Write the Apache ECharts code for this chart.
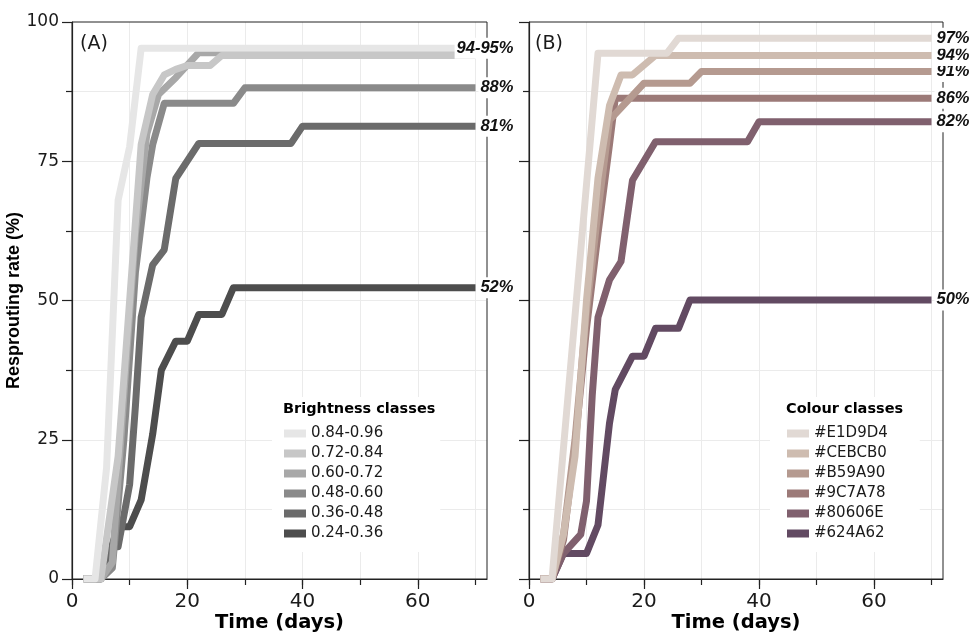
<!DOCTYPE html>
<html>
<head>
<meta charset="utf-8">
<script src="https://cdn.jsdelivr.net/npm/echarts@6/dist/echarts.min.js"></script>
<style>
  html, body { margin: 0; padding: 0; background: #fff; }
  #chart { width: 973px; height: 632px; }
</style>
</head>
<body>
<div id="chart"></div>
<script>
// classes, legend order (lightest first)
const brightNames = ['0.84-0.96', '0.72-0.84', '0.60-0.72', '0.48-0.60', '0.36-0.48', '0.24-0.36']
const brightColors = ['#e6e6e6', '#c7c7c7', '#a8a8a8', '#8a8a8a', '#6b6b6b', '#4d4d4d']
const colourNames = ['#E1D9D4', '#CEBCB0', '#B59A90', '#9C7A78', '#80606E', '#624A62']

// [day, resprouting %]
const bright1 = [[2, 0], [4, 0], [6, 20], [8, 68], [10, 77.6], [12, 95.3], [70, 95.3]]
const bright2 = [[2, 0], [5, 0], [8, 22], [10, 50], [12, 78], [14, 87], [16, 90.5], [18, 91.5], [20, 92.2], [24, 92.2], [26, 94], [70, 94]]
const bright3 = [[2, 0], [5, 0], [7, 3], [9, 33], [11, 62], [13, 80], [15, 87], [18, 90], [22, 94.5], [70, 94.5]]
const bright4 = [[2, 0], [5, 0], [7, 2], [9, 25], [11, 55], [13, 72], [14, 78], [16, 85.4], [28, 85.4], [30, 88.2], [70, 88.2]]
const bright5 = [[2, 0], [5, 0], [7, 5.8], [8, 5.8], [10, 17], [11, 31], [12, 47], [14, 56.4], [16, 59.1], [18, 71.9], [22, 78.2], [38, 78.2], [40, 81.3], [70, 81.3]]
const bright6 = [[2, 0], [5, 0], [8, 9.4], [10, 9.4], [12, 14.2], [14, 26], [15.5, 37.5], [18, 42.7], [20, 42.7], [22, 47.5], [26, 47.5], [28, 52.3], [70, 52.3]]

const colour1 = [[2, 0], [4, 0], [12, 94.4], [24, 94.4], [26, 97.1], [70, 97.1]]
const colour2 = [[2, 0], [4, 0], [6, 8], [8, 22], [10, 50], [12, 72], [14, 85], [16, 90.5], [18, 90.5], [22, 94], [70, 94]]
const colour3 = [[2, 0], [4, 0], [6, 8], [8, 25], [10, 48], [12, 66], [14, 82.4], [20, 89], [28, 89], [30, 91.1], [70, 91.1]]
const colour4 = [[2, 0], [4, 0], [6, 7], [8, 24], [10, 45], [12, 62], [14, 78], [15, 86.3], [70, 86.3]]
const colour5 = [[2, 0], [4, 0], [6, 4.6], [9, 8], [10, 14], [11, 33], [12, 47], [14, 53.7], [16, 57], [18, 71.6], [22, 78.5], [38, 78.5], [40, 82.1], [70, 82.1]]
const colour6 = [[2, 0], [4, 0], [6, 4.6], [10, 4.6], [12, 9.7], [14, 28], [15, 34], [18, 40], [20, 40], [22, 45], [26, 45], [28, 50.1], [70, 50.1]]

const brightEnd = ['94-95%', '', '', '88%', '81%', '52%']
const colourEnd = ['97%', '94%', '91%', '86%', '82%', '50%']

const xMax = 72

const FONT = 'DejaVu Sans, Verdana, sans-serif'
const LABEL_FONT = 'Liberation Sans, Arial, Helvetica, sans-serif'
const INK = '#1a1a1a'
const GRID_LINE = '#ebebeb'

const panels = [
  { left: 72, width: 415, names: brightNames, colors: brightColors, data: [bright1, bright2, bright3, bright4, bright5, bright6], ends: brightEnd },
  { left: 529, width: 414, names: colourNames, colors: colourNames, data: [colour1, colour2, colour3, colour4, colour5, colour6], ends: colourEnd },
]

const grid = []
const xAxis = []
const yAxis = []
const series = []

panels.forEach((p, pi) => {
  const top = 22
  const height = 557
  // main plotting grid, plus two helper grids carrying the minor / major x ticks
  grid.push({ left: p.left, top, width: p.width, height, outerBoundsMode: 'none', containLabel: false, show: true, borderColor: '#222', borderWidth: 1, z: 2 })
  grid.push({ left: p.left, top, width: p.width * 70 / xMax, height, outerBoundsMode: 'none', containLabel: false })
  grid.push({ left: p.left, top, width: p.width * 60 / xMax, height, outerBoundsMode: 'none', containLabel: false })

  const g = pi * 3
  xAxis.push({
    gridIndex: g, type: 'value', min: 0, max: xMax,
    axisLine: { show: true, lineStyle: { color: '#222', width: 1.2 } },
    axisTick: { show: false }, axisLabel: { show: false }, splitLine: { show: false },
    name: 'Time (days)', nameLocation: 'middle', nameGap: 34,
    nameTextStyle: { fontSize: 19.5, fontWeight: 'bold', color: '#000', fontFamily: FONT },
  })
  xAxis.push({
    gridIndex: g + 1, type: 'value', min: 0, max: 70, interval: 10,
    axisLine: { show: false },
    axisTick: { show: true, length: 6, lineStyle: { color: '#222', width: 1.2 } },
    axisLabel: { show: false },
    splitLine: { show: true, showMinLine: false, lineStyle: { color: GRID_LINE, width: 1 } },
  })
  xAxis.push({
    gridIndex: g + 2, type: 'value', min: 0, max: 60, interval: 20,
    axisLine: { show: false },
    axisTick: { show: true, length: 10, lineStyle: { color: '#222', width: 1.2 } },
    axisLabel: { show: true, margin: 13, fontSize: 20, color: INK, fontFamily: FONT },
    splitLine: { show: false },
  })

  yAxis.push({
    gridIndex: g, type: 'value', min: 0, max: 100, interval: 25,
    axisLine: { show: true, lineStyle: { color: '#222', width: 1.2 } },
    axisTick: { show: true, length: 10, lineStyle: { color: '#222', width: 1.2 } },
    minorTick: { show: true, splitNumber: 2, length: 6, lineStyle: { color: '#222', width: 1.2 } },
    axisLabel: { show: pi === 0, margin: 13, fontSize: 17, color: INK, fontFamily: FONT },
    splitLine: { show: true, showMaxLine: false, lineStyle: { color: GRID_LINE, width: 1 } },
    minorSplitLine: { show: true, lineStyle: { color: GRID_LINE, width: 1 } },
    name: pi === 0 ? 'Resprouting rate (%)' : '', nameLocation: 'middle', nameGap: 41,
    nameTextStyle: { fontSize: 18, fontWeight: 'bold', color: '#000', fontFamily: LABEL_FONT },
  })
  yAxis.push({ gridIndex: g + 1, type: 'value', min: 0, max: 100, show: false })
  yAxis.push({ gridIndex: g + 2, type: 'value', min: 0, max: 100, show: false })

  // darkest first so the lighter lines sit on top
  for (let k = p.data.length - 1; k >= 0; k--) {
    series.push({
      name: p.names[k],
      type: 'line',
      xAxisIndex: g, yAxisIndex: g,
      data: p.data[k],
      color: p.colors[k],
      showSymbol: false,
      symbol: 'none',
      z: 3,
      lineStyle: { color: p.colors[k], width: 7, cap: 'butt', join: 'round' },
      itemStyle: { color: p.colors[k] },
      endLabel: {
        show: p.ends[k] !== '',
        formatter: p.ends[k],
        distance: 40,
        align: 'right',
        color: '#111',
        fontSize: 16.5,
        fontWeight: 'bold',
        fontStyle: 'italic',
        fontFamily: LABEL_FONT,
        backgroundColor: '#fff',
        padding: [2, 2, 2, 2],
      },
      emphasis: { disabled: true },
    })
  }
})

const legendBase = {
  orient: 'vertical',
  icon: 'rect',
  itemWidth: 22,
  itemHeight: 8,
  itemGap: 5,
  selectedMode: false,
  backgroundColor: '#fff',
  itemStyle: { borderWidth: 0 },
  textStyle: { fontSize: 15, lineHeight: 15, color: INK, fontFamily: FONT },
}

const option = {
  animation: false,
  backgroundColor: '#fff',
  title: [
    { text: '(A)', left: 80, top: 35, padding: 0, textStyle: { fontSize: 19, fontWeight: 'normal', color: INK, fontFamily: FONT } },
    { text: '(B)', left: 535, top: 35, padding: 0, textStyle: { fontSize: 19, fontWeight: 'normal', color: INK, fontFamily: FONT } },
    { text: 'Brightness classes', left: 283, top: 402, padding: 0, textStyle: { fontSize: 14.5, fontWeight: 'bold', color: '#000', fontFamily: FONT } },
    { text: 'Colour classes', left: 786, top: 402, padding: 0, textStyle: { fontSize: 14.5, fontWeight: 'bold', color: '#000', fontFamily: FONT } },
  ],
  legend: [
    Object.assign({}, legendBase, { data: brightNames, left: 272, top: 397, padding: [29, 57, 11, 12] }),
    Object.assign({}, legendBase, { data: colourNames, left: 770, top: 397, padding: [29, 32, 11, 17] }),
  ],
  grid,
  xAxis,
  yAxis,
  series,
}

const chart = echarts.init(document.getElementById('chart'))
chart.setOption(option)
window.addEventListener('resize', () => chart.resize())
</script>
</body>
</html>
